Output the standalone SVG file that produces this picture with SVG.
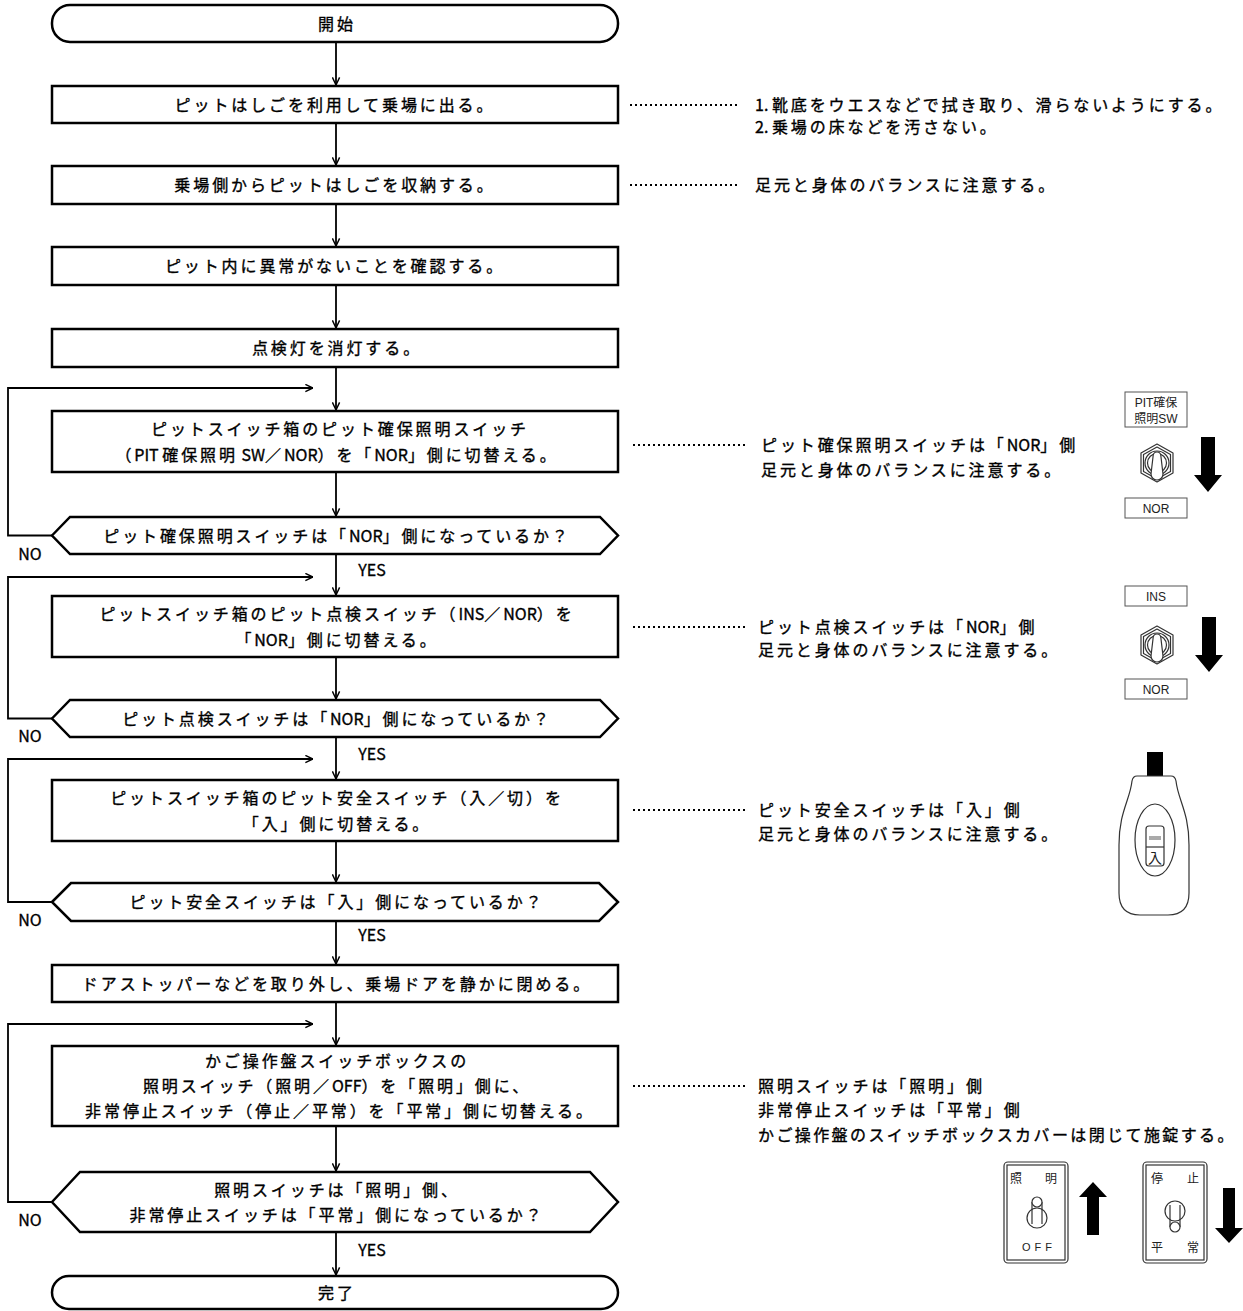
<svg xmlns="http://www.w3.org/2000/svg" width="1243" height="1311" viewBox="0 0 1243 1311">
<style>
.shape{fill:#fff;stroke:#000;stroke-width:2.5}
.t{font-family:"Noto Sans CJK JP","Noto Sans CJK SC",sans-serif;font-size:16px;letter-spacing:2.9px;fill:#000;stroke:#000;stroke-width:0.35px}
.m{text-anchor:middle}
.l{letter-spacing:0}
.yn{font-family:"Noto Sans CJK JP",sans-serif;font-size:16px;fill:#000;stroke:#000;stroke-width:0.3px;text-anchor:middle}
.conn{fill:none;stroke:#000;stroke-width:1.8}
.dot{fill:none;stroke:#000;stroke-width:2;stroke-dasharray:2 3}
.lbl{fill:#fff;stroke:#555;stroke-width:1}
.lt{font-family:"Liberation Sans","Noto Sans CJK JP",sans-serif;font-size:12px;fill:#222;text-anchor:middle}
.ic{fill:#fff;stroke:#333;stroke-width:1.2}
.icn{fill:none;stroke:#333;stroke-width:1.2}
.blk{fill:#000}
</style>
<defs>
<marker id="ah" viewBox="0 0 10 10" refX="9.5" refY="5" markerWidth="9" markerHeight="9" markerUnits="userSpaceOnUse" orient="auto"><path d="M1,1 L9.5,5 L1,9" fill="none" stroke="#000" stroke-width="1.6"/></marker>
<g id="toggle">
<polygon class="ic" points="0,-19 16,-10 16,10 0,19 -16,10 -16,-10" stroke-linejoin="round"/>
<polygon class="icn" points="0,-16 13.5,-8.5 13.5,8.5 0,16 -13.5,8.5 -13.5,-8.5" stroke-linejoin="round"/>
<circle class="icn" r="12"/>
<circle class="icn" r="9.5"/>
<path class="ic" d="M-4,-6 Q-4,-11 0,-11 Q4,-11 4,-6 L6,11 A6,6 0 0 1 -6,11 Z"/>
</g>
<path id="darrow" d="M-7,0 L7,0 L7,38 L14,38 L0,55 L-14,38 L-7,38 Z"/>
</defs>

<g id="connectors">
<line class="conn" x1="336" y1="42" x2="336" y2="85" marker-end="url(#ah)"/>
<line class="conn" x1="336" y1="123" x2="336" y2="165" marker-end="url(#ah)"/>
<line class="conn" x1="336" y1="204" x2="336" y2="246" marker-end="url(#ah)"/>
<line class="conn" x1="336" y1="285" x2="336" y2="328" marker-end="url(#ah)"/>
<line class="conn" x1="336" y1="367" x2="336" y2="410" marker-end="url(#ah)"/>
<line class="conn" x1="336" y1="472" x2="336" y2="516" marker-end="url(#ah)"/>
<line class="conn" x1="336" y1="554" x2="336" y2="595" marker-end="url(#ah)"/>
<line class="conn" x1="336" y1="657" x2="336" y2="699" marker-end="url(#ah)"/>
<line class="conn" x1="336" y1="737" x2="336" y2="779" marker-end="url(#ah)"/>
<line class="conn" x1="336" y1="841" x2="336" y2="882" marker-end="url(#ah)"/>
<line class="conn" x1="336" y1="921" x2="336" y2="964" marker-end="url(#ah)"/>
<line class="conn" x1="336" y1="1002" x2="336" y2="1045" marker-end="url(#ah)"/>
<line class="conn" x1="336" y1="1126" x2="336" y2="1171" marker-end="url(#ah)"/>
<line class="conn" x1="336" y1="1232" x2="336" y2="1275" marker-end="url(#ah)"/>
<polyline class="conn" points="52,535.5 8,535.5 8,388 313,388" marker-end="url(#ah)"/>
<polyline class="conn" points="52,718.5 8,718.5 8,577 313,577" marker-end="url(#ah)"/>
<polyline class="conn" points="52,902 8,902 8,759 313,759" marker-end="url(#ah)"/>
<polyline class="conn" points="52,1202 8,1202 8,1024 313,1024" marker-end="url(#ah)"/>
<text class="yn" x="30" y="560">NO</text>
<text class="yn" x="372" y="576">YES</text>
<text class="yn" x="30" y="742">NO</text>
<text class="yn" x="372" y="760">YES</text>
<text class="yn" x="30" y="926">NO</text>
<text class="yn" x="372" y="941">YES</text>
<text class="yn" x="30" y="1226">NO</text>
<text class="yn" x="372" y="1256">YES</text>
</g>

<g id="n-start">
<rect class="shape" x="52" y="5" width="566" height="37" rx="18" ry="18"/>
<text class="t m" x="337" y="29.5">開始</text>
</g>
<g id="n-1">
<rect class="shape" x="52" y="86" width="566" height="37"/>
<text class="t m" x="335" y="110.5">ピットはしごを利用して乗場に出る。</text>
</g>
<g id="n-2">
<rect class="shape" x="52" y="166" width="566" height="38"/>
<text class="t m" x="335" y="191">乗場側からピットはしごを収納する。</text>
</g>
<g id="n-3">
<rect class="shape" x="52" y="247" width="566" height="38"/>
<text class="t m" x="335" y="272">ピット内に異常がないことを確認する。</text>
</g>
<g id="n-4">
<rect class="shape" x="52" y="329" width="566" height="38"/>
<text class="t m" x="337" y="354">点検灯を消灯する。</text>
</g>
<g id="n-5">
<rect class="shape" x="52" y="411" width="566" height="61"/>
<text class="t m" x="340" y="435">ピットスイッチ箱のピット確保照明スイッチ</text>
<text class="t m" x="337" y="461">（<tspan class="l">PIT </tspan>確保照明<tspan class="l"> SW</tspan>／<tspan class="l">NOR</tspan>）を「<tspan class="l">NOR</tspan>」側に切替える。</text>
</g>
<g id="d-1">
<polygon class="shape" points="52,535.5 70,517 600,517 618,535.5 600,554 70,554"/>
<text class="t m" x="337" y="541.5">ピット確保照明スイッチは「<tspan class="l">NOR</tspan>」側になっているか？</text>
</g>
<g id="n-6">
<rect class="shape" x="52" y="596" width="566" height="61"/>
<text class="t m" x="337" y="620">ピットスイッチ箱のピット点検スイッチ（<tspan class="l">INS</tspan>／<tspan class="l">NOR</tspan>）を</text>
<text class="t m" x="337" y="646">「<tspan class="l">NOR</tspan>」側に切替える。</text>
</g>
<g id="d-2">
<polygon class="shape" points="52,718.5 70,700 600,700 618,718.5 600,737 70,737"/>
<text class="t m" x="337" y="724.5">ピット点検スイッチは「<tspan class="l">NOR</tspan>」側になっているか？</text>
</g>
<g id="n-7">
<rect class="shape" x="52" y="780" width="566" height="61"/>
<text class="t m" x="337" y="804">ピットスイッチ箱のピット安全スイッチ（入／切）を</text>
<text class="t m" x="337" y="830">「入」側に切替える。</text>
</g>
<g id="d-3">
<polygon class="shape" points="52,902 71,883 599,883 618,902 599,921 71,921"/>
<text class="t m" x="337" y="908">ピット安全スイッチは「入」側になっているか？</text>
</g>
<g id="n-8">
<rect class="shape" x="52" y="965" width="566" height="37"/>
<text class="t m" x="337" y="989.5">ドアストッパーなどを取り外し、乗場ドアを静かに閉める。</text>
</g>
<g id="n-9">
<rect class="shape" x="52" y="1046" width="566" height="80"/>
<text class="t m" x="337" y="1067">かご操作盤スイッチボックスの</text>
<text class="t m" x="337" y="1092">照明スイッチ（照明／<tspan class="l">OFF</tspan>）を「照明」側に、</text>
<text class="t m" x="340" y="1117">非常停止スイッチ（停止／平常）を「平常」側に切替える。</text>
</g>
<g id="d-4">
<polygon class="shape" points="52,1202 80,1172 590,1172 618,1202 590,1232 80,1232"/>
<text class="t m" x="337" y="1196">照明スイッチは「照明」側、</text>
<text class="t m" x="337" y="1221">非常停止スイッチは「平常」側になっているか？</text>
</g>
<g id="n-end">
<rect class="shape" x="52" y="1276" width="566" height="33" rx="17" ry="16.5"/>
<text class="t m" x="337" y="1298.5">完了</text>
</g>

<g id="notes">
<line class="dot" x1="630" y1="105" x2="738" y2="105"/>
<text class="t" x="755" y="111"><tspan class="l">1. </tspan>靴底をウエスなどで拭き取り、滑らないようにする。</text>
<text class="t" x="755" y="133"><tspan class="l">2. </tspan>乗場の床などを汚さない。</text>
<line class="dot" x1="630" y1="185" x2="738" y2="185"/>
<text class="t" x="755" y="191">足元と身体のバランスに注意する。</text>
<line class="dot" x1="633" y1="445" x2="748" y2="445"/>
<text class="t" x="761" y="451">ピット確保照明スイッチは「<tspan class="l">NOR</tspan>」側</text>
<text class="t" x="761" y="476">足元と身体のバランスに注意する。</text>
<line class="dot" x1="633" y1="627" x2="746" y2="627"/>
<text class="t" x="758" y="633">ピット点検スイッチは「<tspan class="l">NOR</tspan>」側</text>
<text class="t" x="758" y="656">足元と身体のバランスに注意する。</text>
<line class="dot" x1="633" y1="810" x2="746" y2="810"/>
<text class="t" x="758" y="816">ピット安全スイッチは「入」側</text>
<text class="t" x="758" y="840">足元と身体のバランスに注意する。</text>
<line class="dot" x1="633" y1="1086" x2="746" y2="1086"/>
<text class="t" x="758" y="1092">照明スイッチは「照明」側</text>
<text class="t" x="758" y="1116">非常停止スイッチは「平常」側</text>
<text class="t" x="758" y="1141" style="letter-spacing:2.4px">かご操作盤のスイッチボックスカバーは閉じて施錠する。</text>
</g>

<g id="icon-pit-light">
<rect class="lbl" x="1125" y="392" width="62" height="35"/>
<text class="lt" x="1156" y="407">PIT確保</text>
<text class="lt" x="1156" y="423">照明SW</text>
<use href="#toggle" x="1157" y="463"/>
<use href="#darrow" x="1208" y="437" class="blk"/>
<rect class="lbl" x="1125" y="498" width="62" height="20"/>
<text class="lt" x="1156" y="513">NOR</text>
</g>
<g id="icon-pit-ins">
<rect class="lbl" x="1125" y="586" width="62" height="20"/>
<text class="lt" x="1156" y="601">INS</text>
<use href="#toggle" x="1157" y="645"/>
<use href="#darrow" x="1209" y="617" class="blk"/>
<rect class="lbl" x="1125" y="679" width="62" height="20"/>
<text class="lt" x="1156" y="694">NOR</text>
</g>
<g id="icon-pit-safety">
<rect class="blk" x="1147" y="752" width="16" height="24"/>
<path class="ic" d="M1137,776 L1171,776 Q1175,776 1176,781 C1178,800 1189,812 1189,845 L1189,893 C1189,910 1180,915 1168,915 L1140,915 C1128,915 1119,910 1119,893 L1119,845 C1119,812 1130,800 1132,781 Q1133,776 1137,776 Z"/>
<ellipse class="icn" cx="1155" cy="840" rx="20" ry="36"/>
<rect class="icn" x="1146" y="826" width="18" height="40" rx="3"/>
<line class="icn" x1="1146" y1="847" x2="1164" y2="847"/>
<rect x="1149" y="836" width="12" height="4" fill="#aaa"/>
<text x="1155" y="863" font-family="Noto Sans CJK JP, sans-serif" font-size="14" text-anchor="middle" fill="#222">入</text>
</g>
<g id="icon-car-switches">
<rect class="ic" x="1004" y="1162" width="64" height="101" rx="4"/>
<rect class="icn" x="1007" y="1165" width="58" height="95"/>
<text x="1016" y="1183" font-family="Noto Sans CJK JP, sans-serif" font-size="12" text-anchor="middle" fill="#222">照</text>
<text x="1051" y="1183" font-family="Noto Sans CJK JP, sans-serif" font-size="12" text-anchor="middle" fill="#222">明</text>
<circle class="icn" cx="1037" cy="1218" r="10"/>
<path class="icn" d="M1032,1224 L1032,1202 M1042,1202 L1042,1224"/>
<circle class="ic" cx="1037" cy="1202" r="5"/>
<text x="1039" y="1251" font-family="Liberation Sans, sans-serif" font-size="11" letter-spacing="4" text-anchor="middle" fill="#222">OFF</text>
<path class="blk" d="M1093,1182 L1107,1197 L1099,1197 L1099,1235 L1087,1235 L1087,1197 L1079,1197 Z"/>
<rect class="ic" x="1143" y="1162" width="64" height="101" rx="4"/>
<rect class="icn" x="1146" y="1165" width="58" height="95"/>
<text x="1157" y="1183" font-family="Noto Sans CJK JP, sans-serif" font-size="12" text-anchor="middle" fill="#222">停</text>
<text x="1193" y="1183" font-family="Noto Sans CJK JP, sans-serif" font-size="12" text-anchor="middle" fill="#222">止</text>
<circle class="icn" cx="1175" cy="1211" r="10"/>
<path class="icn" d="M1170,1205 L1170,1227 M1180,1205 L1180,1227"/>
<circle class="ic" cx="1175" cy="1227" r="5"/>
<text x="1157" y="1252" font-family="Noto Sans CJK JP, sans-serif" font-size="12" text-anchor="middle" fill="#222">平</text>
<text x="1193" y="1252" font-family="Noto Sans CJK JP, sans-serif" font-size="12" text-anchor="middle" fill="#222">常</text>
<path class="blk" d="M1223,1188 L1235,1188 L1235,1228 L1243,1228 L1229,1243 L1215,1228 L1223,1228 Z"/>
</g>
</svg>
